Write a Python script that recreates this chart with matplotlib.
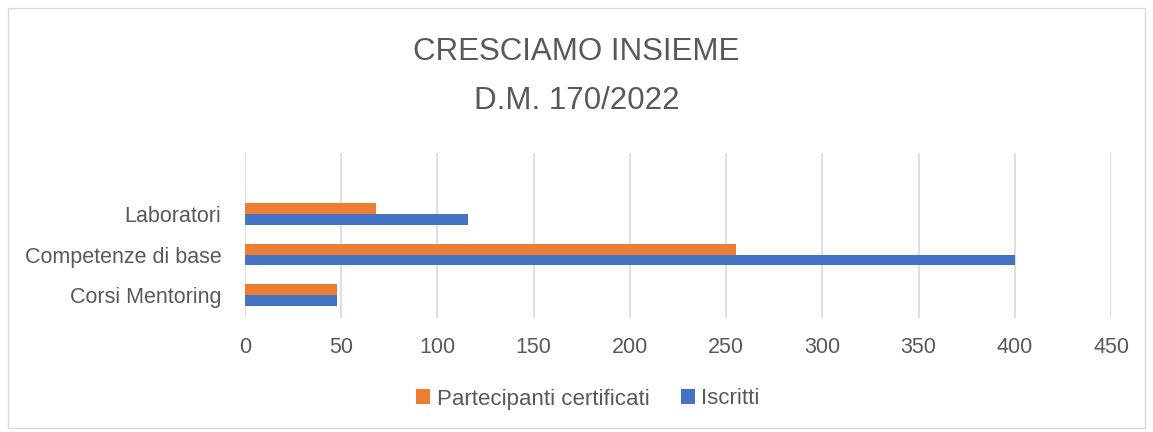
import numpy as np
import matplotlib
matplotlib.use("Agg")
import matplotlib.pyplot as plt
from matplotlib.patches import Rectangle

plt.rcParams['font.family'] = ['Liberation Sans', 'DejaVu Sans']

categories = ['Corsi Mentoring', 'Competenze di base', 'Laboratori']
certificati = [48, 255, 68]
iscritti = [48, 400, 116]
ticks = [0, 50, 100, 150, 200, 250, 300, 350, 400, 450]

ORANGE = '#ED7D31'
BLUE = '#4472C4'
TEXT = '#595959'

fig = plt.figure(figsize=(11.53, 4.32), dpi=100)
ax = fig.add_axes([245 / 1153, 1 - 318 / 432, (1111 - 245) / 1153, (318 - 153) / 432])

y = np.arange(len(categories))
h = 0.27
ax.barh(y + h / 2, certificati, height=h, color=ORANGE, label='Partecipanti certificati', zorder=3)
ax.barh(y - h / 2, iscritti, height=h, color=BLUE, label='Iscritti', zorder=3)

ax.set_xlim(0, 450)
ax.set_ylim(-0.57, 3.51)
ax.set_xticks(ticks)
ax.set_yticks(y)
ax.set_yticklabels(categories)
ax.grid(axis='x', color='#D9D9D9', linewidth=1.2, zorder=0)
ax.tick_params(length=0, labelsize=15.5, colors=TEXT)
ax.tick_params(axis='x', pad=14)
ax.tick_params(axis='y', pad=17)
for s in ax.spines.values():
    s.set_visible(False)

fig.text(0.5, 1 - 52 / 432, 'CRESCIAMO INSIEME', ha='center', va='center', fontsize=22.5, color=TEXT)
fig.text(0.5, 1 - 101 / 432, 'D.M. 170/2022', ha='center', va='center', fontsize=22.5, color=TEXT)

fig.legend(loc='center', bbox_to_anchor=(588 / 1153, 1 - 399 / 432), ncol=2, frameon=False,
           fontsize=16, labelcolor=TEXT, handlelength=0.63, handleheight=0.63,
           handletextpad=0.3, columnspacing=1.4)

fig.patches.append(Rectangle((8 / 1153, 4 / 432), 1137 / 1153, 420 / 432, transform=fig.transFigure,
                             fill=False, edgecolor='#D9D9D9', linewidth=1))

fig.savefig('out.png', dpi=100)
